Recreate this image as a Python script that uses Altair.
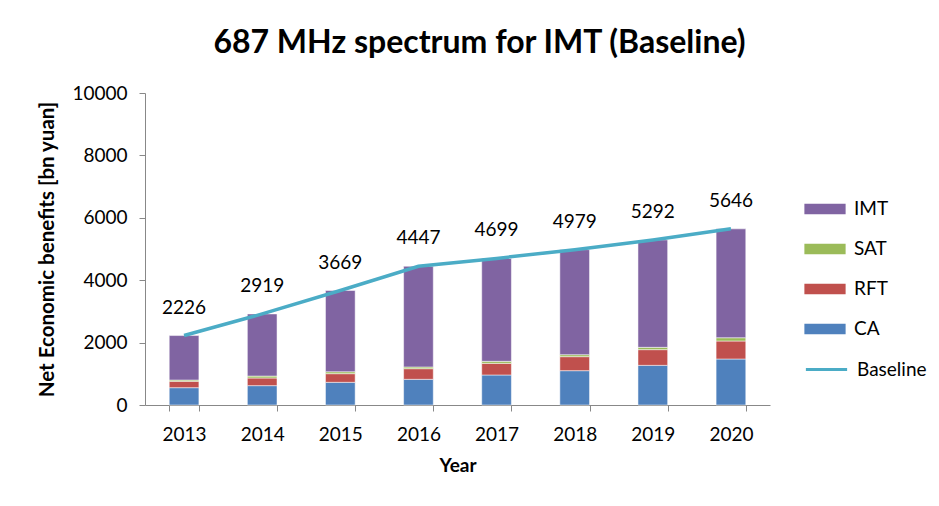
import altair as alt
import pandas as pd

years = ["2013", "2014", "2015", "2016", "2017", "2018", "2019", "2020"]
ca = [555, 620, 727, 823, 962, 1100, 1271, 1474]
rft = [205, 245, 277, 341, 373, 449, 503, 577]
sat = [40, 62, 62, 54, 65, 64, 74, 105]
baseline = [2226, 2919, 3669, 4447, 4699, 4979, 5292, 5646]
imt = [b - c - r - s for b, c, r, s in zip(baseline, ca, rft, sat)]

series = ["IMT", "SAT", "RFT", "CA"]
colors = ["#8064A2", "#9BBB59", "#C0504D", "#4F81BD"]
stack_rank = {"CA": 0, "RFT": 1, "SAT": 2, "IMT": 3}

rows = []
for i, y in enumerate(years):
    for name, vals in (("CA", ca), ("RFT", rft), ("SAT", sat), ("IMT", imt)):
        rows.append({"Year": y, "Series": name, "Value": vals[i], "rank": stack_rank[name]})
bars_df = pd.DataFrame(rows)
line_df = pd.DataFrame({"Year": years, "Baseline": baseline, "Name": ["Baseline"] * len(years)})

FONT = "Lato"
LS = 19

x_enc = alt.X("Year:N", title="Year",
              scale=alt.Scale(paddingInner=0.62, paddingOuter=0.31),
              axis=alt.Axis(labelAngle=0, labelFontSize=LS, labelColor="#000", labelPadding=14,
                            titleFontSize=19, titleFontWeight="bold", titleColor="#000", titlePadding=12,
                            tickBand="extent", tickSize=6, tickColor="#888", domainColor="#888",
                            labelFont=FONT, titleFont=FONT))

bars = alt.Chart(bars_df).mark_bar(stroke="white", strokeOpacity=0.5, strokeWidth=1).encode(
    x=x_enc,
    y=alt.Y("Value:Q", stack="zero", title="Net Economic benefits [bn yuan]",
            scale=alt.Scale(domain=[0, 10000]),
            axis=alt.Axis(values=[0, 2000, 4000, 6000, 8000, 10000], grid=False, format="d",
                          labelFontSize=LS, labelColor="#000", labelPadding=12,
                          titleFontSize=20.5, titleFontWeight="bold", titleColor="#000", titlePadding=14,
                          tickSize=6, tickColor="#888", domainColor="#888",
                          labelFont=FONT, titleFont=FONT)),
    fill=alt.Fill("Series:N", scale=alt.Scale(domain=series, range=colors),
                  legend=alt.Legend(title=None, orient="none", legendX=659, legendY=95,
                                    symbolType="M-1,-0.26H1V0.26H-1Z", symbolSize=1700,
                                    symbolStrokeWidth=0, rowPadding=9, labelFontSize=LS,
                                    labelFont=FONT, labelColor="#000", labelOffset=8)),
    order=alt.Order("rank:Q", sort="ascending"),
)

line = alt.Chart(line_df).mark_line(strokeWidth=3.5).encode(
    x=alt.X("Year:N"),
    y=alt.Y("Baseline:Q"),
    stroke=alt.Stroke("Name:N", scale=alt.Scale(domain=["Baseline"], range=["#4BACC6"]),
                      legend=alt.Legend(title=None, orient="none", legendX=659, legendY=254,
                                        symbolType="stroke", symbolStrokeWidth=3, symbolSize=1700,
                                        labelFontSize=LS, labelFont=FONT, labelColor="#000",
                                        labelOffset=8)),
)

labels = alt.Chart(line_df).mark_text(dy=-28, fontSize=LS, font=FONT, color="#000").encode(
    x=alt.X("Year:N"),
    y=alt.Y("Baseline:Q"),
    text=alt.Text("Baseline:Q", format="d"),
)

chart = alt.layer(bars, line, labels).resolve_scale(fill="independent", stroke="independent").properties(
    width=625, height=312,
    background="white",
    title=alt.TitleParams("687 MHz spectrum for IMT (Baseline)", fontSize=32, fontWeight="bold",
                          font=FONT, color="#000", anchor="middle", dx=22, offset=24),
    autosize=alt.AutoSizeParams(type="none"),
    padding={"left": 137, "top": 85, "right": 161, "bottom": 93},
).configure_view(stroke=None, strokeWidth=0)

chart.save("out.html", embed_options={"renderer": "svg", "actions": False})
